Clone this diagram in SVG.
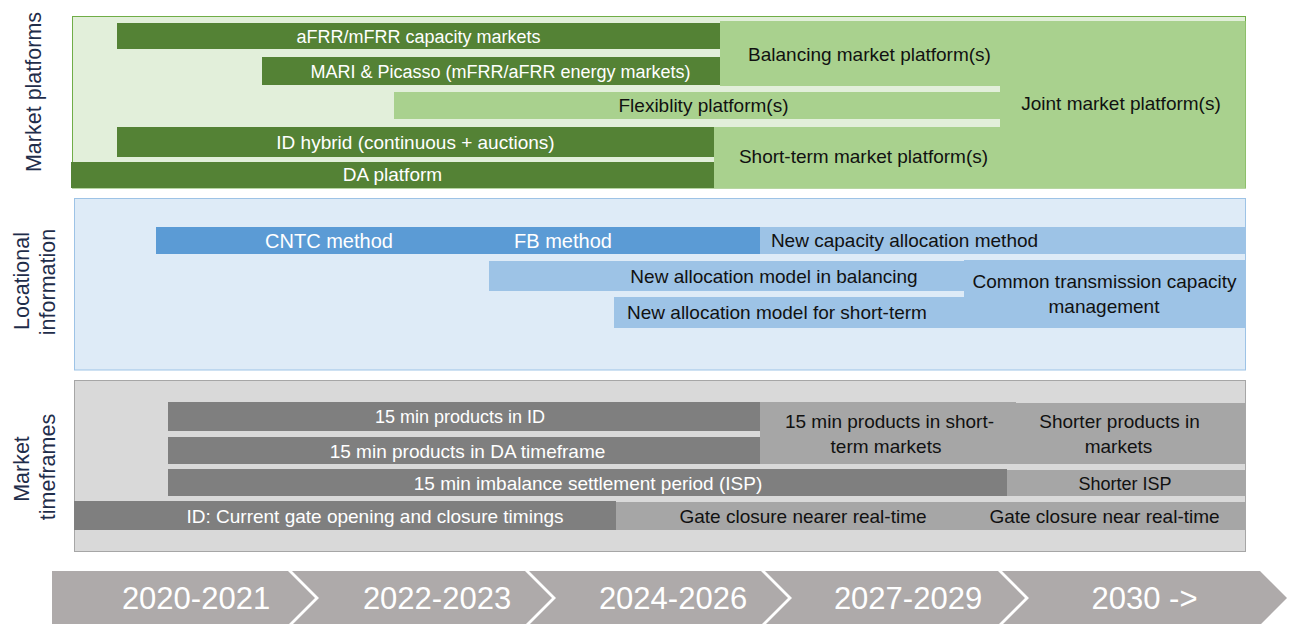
<svg xmlns="http://www.w3.org/2000/svg" width="1293" height="624" viewBox="0 0 1293 624">
<style>
text{font-family:"Liberation Sans",Arial,sans-serif;font-size:19px;text-anchor:middle}
.w{fill:#ffffff}
.k{fill:#111111}
.s18{font-size:18px}
.lab{font-size:21.5px;fill:#1f2d4a}
.yr{font-size:31px;fill:#ffffff}
.dg{fill:#548235}
.lg{fill:#a9d18e}
.db{fill:#5b9bd5}
.lb{fill:#9dc3e6}
.dk{fill:#7f7f7f}
.md{fill:#a6a6a6}
.chev{fill:#aeaaaa}
</style>
<rect width="1293" height="624" fill="#ffffff"/>

<!-- Row labels -->
<g id="label-market-platforms"><text class="lab" transform="translate(41,92) rotate(-90)">Market platforms</text></g>
<g id="label-locational"><text class="lab" transform="translate(29,281) rotate(-90)">Locational</text><text class="lab" transform="translate(55,282) rotate(-90)">information</text></g>
<g id="label-timeframes"><text class="lab" transform="translate(29,469) rotate(-90)">Market</text><text class="lab" transform="translate(55,467) rotate(-90)">timeframes</text></g>

<!-- Panel 1: Market platforms -->
<g id="panel-platforms"><rect x="72.5" y="16.5" width="1173" height="171.5" fill="#e2efda" stroke="#70ad47" stroke-width="1"/></g>
<g id="joint"><rect class="lg" x="1000" y="21" width="245.5" height="167"/><text class="k" x="1121" y="109.5">Joint market platform(s)</text></g>
<g id="balancing-platform"><rect class="lg" x="720" y="21" width="280" height="65"/><text class="k" x="869.5" y="60.5">Balancing market platform(s)</text></g>
<g id="flex-platform"><rect class="lg" x="394" y="92" width="606" height="27"/><text class="k" x="703.5" y="111.5">Flexiblity platform(s)</text></g>
<g id="short-term-platform"><rect class="lg" x="714" y="127" width="286" height="61"/><text class="k" x="863.5" y="162.5">Short-term market platform(s)</text></g>
<g id="afrr"><rect class="dg" x="117" y="23" width="603" height="26"/><text class="w s18" x="418.5" y="42.5">aFRR/mFRR capacity markets</text></g>
<g id="mari"><rect class="dg" x="262" y="57" width="458" height="28"/><text class="w s18" x="500.5" y="77.5">MARI &amp; Picasso (mFRR/aFRR energy markets)</text></g>
<g id="id-hybrid"><rect class="dg" x="117" y="127" width="597" height="30"/><text class="w" x="415.5" y="148.5">ID hybrid (continuous + auctions)</text></g>
<g id="da-platform"><rect class="dg" x="71" y="162" width="643" height="26"/><text class="w" x="392.5" y="181">DA platform</text></g>

<!-- Panel 2: Locational information -->
<g id="panel-locational"><rect x="74.5" y="198.5" width="1171" height="171.5" fill="#deebf7" stroke="#9dc3e6" stroke-width="1"/></g>
<g id="cntc"><rect class="db" x="156" y="227" width="350" height="27"/><text class="w" style="font-size:20px" x="329" y="247.5">CNTC method</text></g>
<g id="fb"><rect class="db" x="506" y="227" width="254" height="27"/><text class="w" style="font-size:20px" x="563" y="247.5">FB method</text></g>
<g id="new-capacity"><rect class="lb" x="760" y="227" width="485.5" height="27"/><text class="k" x="904.5" y="247">New capacity allocation method</text></g>
<g id="alloc-balancing"><rect class="lb" x="489" y="261" width="475" height="30"/><text class="k" x="774" y="282.5">New allocation model in balancing</text></g>
<g id="alloc-short"><rect class="lb" x="614" y="297" width="350" height="31"/><text class="k" x="777" y="318.5">New allocation model for short-term</text></g>
<g id="common-tc"><rect class="lb" x="964" y="260" width="281.5" height="68"/><text class="k" x="1104.5" y="287.5">Common transmission capacity</text><text class="k" x="1104" y="312.5">management</text></g>

<!-- Panel 3: Market timeframes -->
<g id="panel-timeframes"><rect x="74.5" y="380.5" width="1171" height="171" fill="#d9d9d9" stroke="#a6a6a6" stroke-width="1"/></g>
<g id="id15"><rect class="dk" x="168" y="402" width="592" height="29"/><text class="w s18" x="460" y="422.5">15 min products in ID</text></g>
<g id="da15"><rect class="dk" x="168" y="437" width="592" height="27"/><text class="w" x="467.5" y="457.5">15 min products in DA timeframe</text></g>
<g id="short15"><rect class="md" x="760" y="402" width="256" height="62"/><text class="k" x="889.5" y="427.5">15 min products in short-</text><text class="k" x="886" y="452.5">term markets</text></g>
<g id="shorter-products"><rect class="md" x="1016" y="403" width="229.5" height="61"/><text class="k" x="1119.5" y="427.5">Shorter products in</text><text class="k" x="1118.5" y="452.5">markets</text></g>
<g id="isp15"><rect class="dk" x="168" y="469" width="839" height="27"/><text class="w" x="588" y="489.5">15 min imbalance settlement period (ISP)</text></g>
<g id="shorter-isp"><rect class="md" x="1007" y="470" width="238.5" height="26"/><text class="k s18" x="1125" y="489.5">Shorter ISP</text></g>
<g id="gate-current"><rect class="dk" x="74" y="501" width="542" height="29"/><text class="w" x="375" y="522.5">ID: Current gate opening and closure timings</text></g>
<g id="gate-nearer"><rect class="md" x="616" y="502" width="348" height="28"/><text class="k" x="803" y="522.5">Gate closure nearer real-time</text></g>
<g id="gate-near"><rect class="md" x="964" y="502" width="281.5" height="28"/><text class="k" x="1104.5" y="522.5">Gate closure near real-time</text></g>

<!-- Timeline -->
<g id="y2020"><polygon class="chev" points="52,571 288,571 315,598 288,625 52,625"/><text class="yr" x="196" y="609">2020-2021</text></g>
<g id="y2022"><polygon class="chev" points="292,571 525,571 552,598 525,625 292,625 319,598"/><text class="yr" x="437" y="609">2022-2023</text></g>
<g id="y2024"><polygon class="chev" points="529,571 761,571 788,598 761,625 529,625 556,598"/><text class="yr" x="673" y="609">2024-2026</text></g>
<g id="y2027"><polygon class="chev" points="765,571 998,571 1025,598 998,625 765,625 792,598"/><text class="yr" x="908" y="609">2027-2029</text></g>
<g id="y2030"><polygon class="chev" points="1002,571 1260,571 1287,598 1260,625 1002,625 1029,598"/><text class="yr" x="1144.5" y="609">2030 -&gt;</text></g>

<g id="connectors"></g>
</svg>
